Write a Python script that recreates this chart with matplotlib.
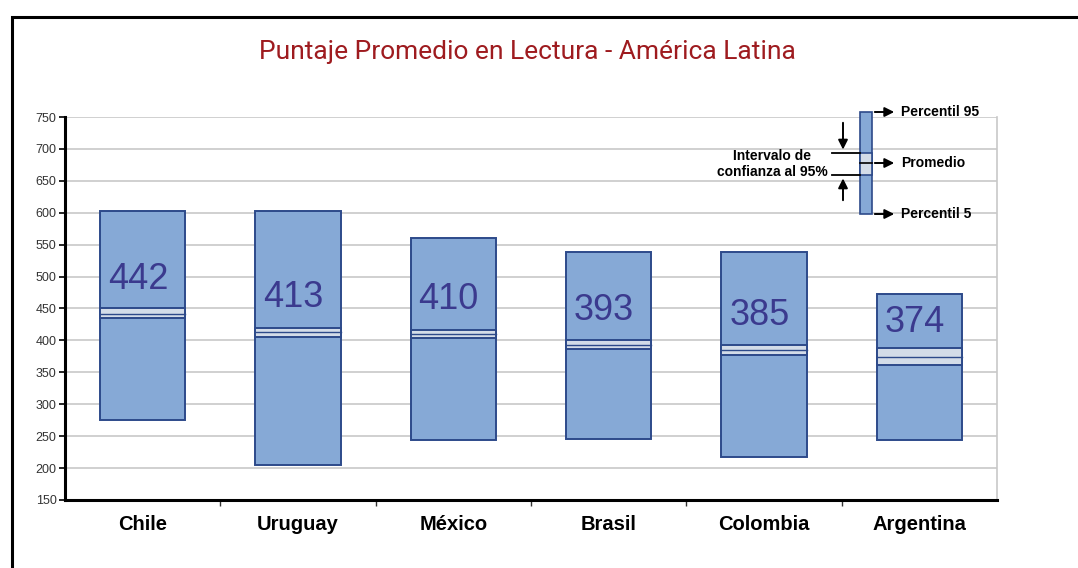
import matplotlib
matplotlib.use("Agg")
import matplotlib.pyplot as plt
from matplotlib.patches import Rectangle
import numpy as np

countries = ["Chile", "Uruguay", "México", "Brasil", "Colombia", "Argentina"]
means = [442, 413, 410, 393, 385, 374]
p5 = [275, 205, 244, 246, 217, 244]
p95 = [603, 603, 560, 538, 538, 473]
ci_low = [435, 405, 404, 386, 377, 362]
ci_high = [451, 420, 416, 400, 393, 388]
y_ticks = list(range(150, 751, 50))
title = "Puntaje Promedio en Lectura - América Latina"

W, H = 1078, 568
fig = plt.figure(figsize=(W / 100, H / 100), dpi=100)
fig.patch.set_facecolor("white")

# frame around figure (top and left visible)
fig.add_artist(Rectangle((12 / W, -0.05), 1.2, 1 - 17 / H + 0.05, transform=fig.transFigure,
                         fill=False, edgecolor="black", linewidth=2.2))

ax = fig.add_axes([65 / W, 1 - 500 / H, (997 - 65) / W, (500 - 117) / H])
bar_fc = "#86a9d6"
bar_ec = "#2d4a8a"
ci_fc = "#d3dce8"
num_color = "#3b3a8e"
bw = 0.55
x = np.arange(len(countries))
for i in range(len(countries)):
    ax.add_patch(Rectangle((x[i] - bw / 2, p5[i]), bw, p95[i] - p5[i],
                           facecolor=bar_fc, edgecolor=bar_ec, linewidth=1.4, zorder=3))
    ax.add_patch(Rectangle((x[i] - bw / 2, ci_low[i]), bw, ci_high[i] - ci_low[i],
                           facecolor=ci_fc, edgecolor=bar_ec, linewidth=1.4, zorder=4))
    ax.plot([x[i] - bw / 2, x[i] + bw / 2], [means[i], means[i]], color=bar_ec, lw=1.0, zorder=5)
    ax.text(x[i] - 0.03, means[i] + 54, str(means[i]), ha="center", va="center",
            fontsize=26, color=num_color, family="Liberation Sans", zorder=6)

ax.set_xlim(-0.5, len(countries) - 0.5)
ax.set_ylim(150, 750)
ax.set_yticks(y_ticks)
ax.set_yticklabels([str(t) for t in y_ticks], fontsize=9, color="#333333", family="Liberation Sans")
ax.set_xticks(x)
ax.set_xticklabels(countries, fontsize=14.5, fontweight="bold", family="Liberation Sans")
ax.set_xticks(np.arange(0.5, len(countries) - 0.5, 1), minor=True)
ax.tick_params(axis="x", which="major", length=0, pad=11)
ax.tick_params(axis="x", which="minor", length=4, width=1, color="#333333")
ax.tick_params(axis="y", length=4, width=1.2, pad=2)
ax.yaxis.grid(True, color="#c8c8c8", linewidth=1.2, zorder=0)
ax.set_axisbelow(True)
ax.spines["left"].set_linewidth(2.2)
ax.spines["bottom"].set_linewidth(2.2)
ax.spines["top"].set_visible(False)
ax.spines["right"].set_color("#c8c8c8")
ax.spines["right"].set_linewidth(1.2)

# legend diagram (pixel positions converted)
def px_x(px):
    return (px - 65) / ((997 - 65) / len(countries)) - 0.5

def px_y(py):
    return 750 - (py - 117) * 600 / 383

lx0, lx1 = px_x(860), px_x(872)
ytop, ybot, ycih, ycil, ymean = px_y(112), px_y(214), px_y(153), px_y(175), px_y(163)
ax.add_patch(Rectangle((lx0, ybot), lx1 - lx0, ytop - ybot, facecolor=bar_fc, edgecolor=bar_ec,
                       lw=1.2, zorder=5, clip_on=False))
ax.add_patch(Rectangle((lx0, ycil), lx1 - lx0, ycih - ycil, facecolor=ci_fc, edgecolor=bar_ec,
                       lw=1.2, zorder=6, clip_on=False))
ax.plot([lx0, lx1], [ymean, ymean], color="black", lw=1.2, zorder=7, clip_on=False)
arrow_kw = dict(arrowstyle="-|>", color="black", lw=1.4, mutation_scale=14)
for yy, lab in [(ytop, "Percentil 95"), (ymean, "Promedio"), (ybot, "Percentil 5")]:
    ax.annotate("", xy=(px_x(897), yy), xytext=(lx1, yy), arrowprops=arrow_kw,
                annotation_clip=False, zorder=7)
    ax.text(px_x(901), yy, lab, ha="left", va="center", fontsize=10, fontweight="bold",
            family="Liberation Sans", zorder=7)
ax.plot([px_x(832), lx0], [ycih, ycih], color="black", lw=1.3, clip_on=False, zorder=7)
ax.plot([px_x(832), lx0], [ycil, ycil], color="black", lw=1.3, clip_on=False, zorder=7)
ax.annotate("", xy=(px_x(843), ycih + 1), xytext=(px_x(843), px_y(120)), arrowprops=arrow_kw,
            annotation_clip=False)
ax.annotate("", xy=(px_x(843), ycil - 1), xytext=(px_x(843), px_y(203)), arrowprops=arrow_kw,
            annotation_clip=False)
ax.text(px_x(772), px_y(164), "Intervalo de\nconfianza al 95%", ha="center", va="center",
        fontsize=10, fontweight="bold", family="Liberation Sans", linespacing=1.25, zorder=7)

fig.text(527 / W, 1 - 52 / H, title, ha="center", va="center", fontsize=19,
         color="#9e1b1f", family=["Roboto", "DejaVu Sans"])

fig.savefig("out.png", dpi=100)
